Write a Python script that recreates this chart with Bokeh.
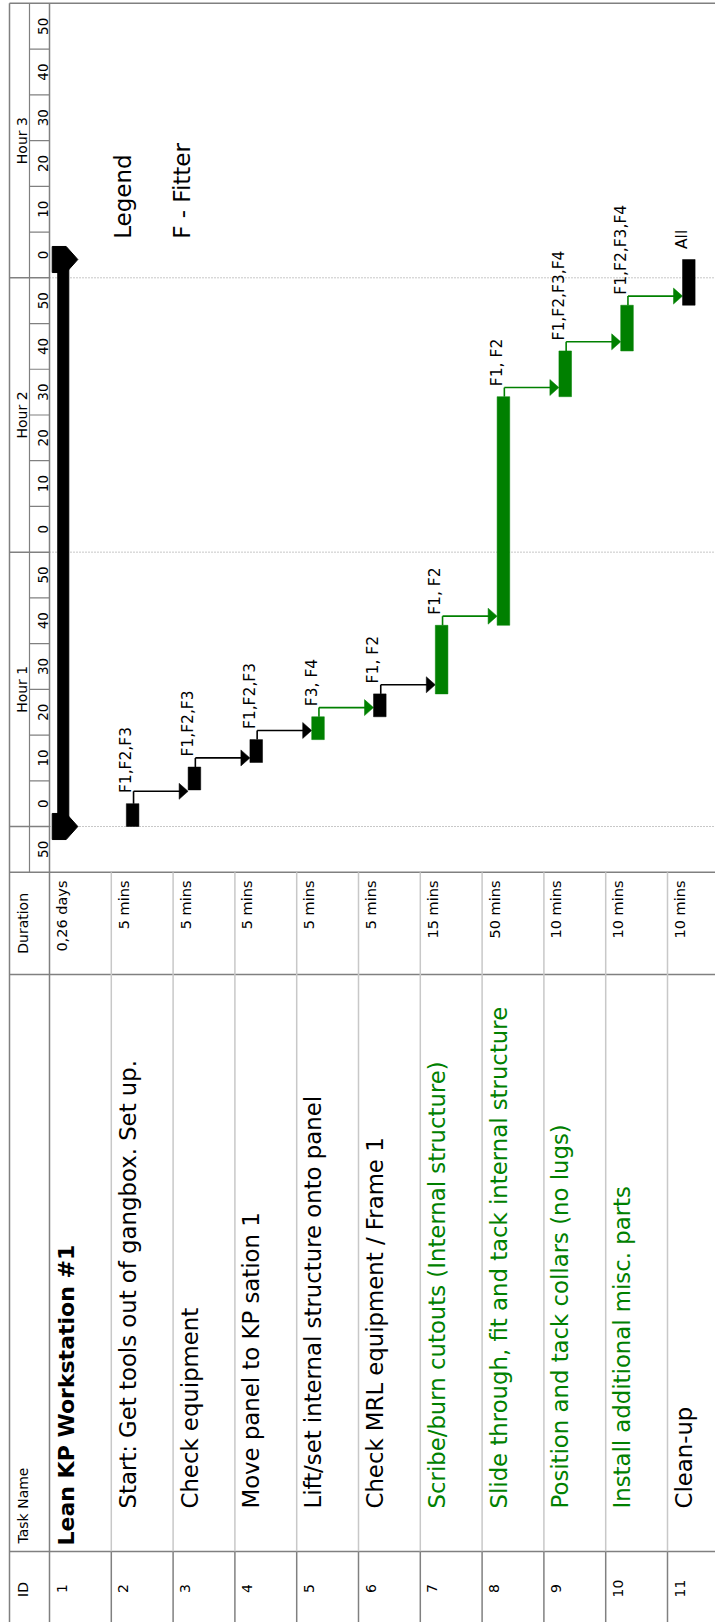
import math
from bokeh.plotting import figure
from bokeh.models import Range1d, ColumnDataSource
from bokeh.core.properties import value
from bokeh.embed import file_html
from bokeh.resources import INLINE

# ---------------- data ----------------
task_ids = ["1", "2", "3", "4", "5", "6", "7", "8", "9", "10", "11"]
task_names = [
    "Lean KP Workstation #1",
    "Start: Get tools out of gangbox. Set up.",
    "Check equipment",
    "Move panel to KP sation 1",
    "Lift/set internal structure onto panel",
    "Check MRL equipment / Frame 1",
    "Scribe/burn cutouts (Internal structure)",
    "Slide through, fit and tack internal structure",
    "Position and tack collars (no lugs)",
    "Install additional misc. parts",
    "Clean-up",
]
durations = ["0,26 days", "5 mins", "5 mins", "5 mins", "5 mins", "5 mins",
             "15 mins", "50 mins", "10 mins", "10 mins", "10 mins"]
start_min = [0, 0, 8, 14, 19, 24, 29, 44, 94, 104, 114]   # minutes from start of Hour 1
dur_min = [124, 5, 5, 5, 5, 5, 15, 50, 10, 10, 10]
resources = ["", "F1,F2,F3", "F1,F2,F3", "F1,F2,F3", "F3, F4", "F1, F2",
             "F1, F2", "F1, F2", "F1,F2,F3,F4", "F1,F2,F3,F4", "All"]
is_green_bar = [False, False, False, False, True, False, True, True, True, True, False]
is_green_name = [False, False, False, False, False, False, True, True, True, True, False]
hour_labels = ["Hour 1", "Hour 2", "Hour 3"]
hour_starts = [0, 60, 120]
minute_labels = ["50", "0", "10", "20", "30", "40", "50", "0", "10", "20", "30",
                 "40", "50", "0", "10", "20", "30", "40", "50"]
minute_cells = [-10, 0, 10, 20, 30, 40, 50, 60, 70, 80, 90, 100, 110, 120, 130,
                140, 150, 160, 170]
legend_lines = ["Legend", "F - Fitter"]
col_headers = ["Duration", "Task Name", "ID"]

# ---------------- styling ----------------
BLACK = "#000000"
GREEN = "#008000"
DARK = "#808080"
LIGHT = "#c8c8c8"
FONT = "DejaVu Sans"
PXROW = 61.8          # pixels per row column
PXMIN = 4.5725        # pixels per minute
Y0PX = 826.0          # pixel row of minute 0


def u(px):
    """horizontal pixel -> row units"""
    return (px - 49) / PXROW


def tm(py):
    """vertical pixel -> minutes"""
    return (Y0PX - py) / PXMIN


def fix(size):
    """small leftward correction of rotated text baseline (row units)"""
    return -0.2 * size / PXROW


W, H = 715, 1622
X0, X1 = u(0), u(W)
T_TOP, T_BOT = tm(0), tm(H)
T_BORDER = tm(2.7)
T_CHART_BOT = -10
T_DUR_BOT = tm(974)
T_NAME_BOT = tm(1551)
XL, XM = u(9), u(29)

p = figure(width=W, height=H, x_range=Range1d(X0, X1), y_range=Range1d(T_BOT, T_TOP),
           x_axis_location=None, y_axis_location=None, toolbar_location=None,
           output_backend="svg", min_border=0, outline_line_color=None,
           background_fill_color="white", border_fill_color="white")
p.grid.visible = False

n = len(task_ids)

# ---- grid / table lines ----
p.segment(x0=[0] * len(hour_starts), x1=[X1] * len(hour_starts), y0=hour_starts, y1=hour_starts,
          line_color="#909090", line_width=1, line_dash="1 2")
p.segment(x0=[XL] * len(hour_starts), x1=[0] * len(hour_starts), y0=hour_starts, y1=hour_starts,
          line_color=DARK, line_width=1.5)
ticks = [c for c in minute_cells if c not in hour_starts and c > T_CHART_BOT]
p.segment(x0=[XM] * len(ticks), x1=[0] * len(ticks), y0=ticks, y1=ticks,
          line_color=DARK, line_width=1.2)
p.segment(x0=[XL, 0], x1=[XL, 0], y0=[T_BORDER, T_BORDER], y1=[T_BOT, T_BOT],
          line_color=DARK, line_width=1.5)
p.segment(x0=[XM], x1=[XM], y0=[T_BORDER], y1=[T_CHART_BOT], line_color=DARK, line_width=1.2)
hs = [T_BORDER, T_CHART_BOT, T_DUR_BOT, T_NAME_BOT]
p.segment(x0=[XL] * 4, x1=[X1] * 4, y0=hs, y1=hs, line_color=DARK, line_width=1.5)
rows = list(range(1, n))
p.segment(x0=rows, x1=rows, y0=[T_CHART_BOT] * len(rows), y1=[T_NAME_BOT] * len(rows),
          line_color=LIGHT, line_width=1.5)
p.segment(x0=rows, x1=rows, y0=[T_NAME_BOT] * len(rows), y1=[T_BOT] * len(rows),
          line_color=DARK, line_width=1.5)

# ---- header texts ----
p.text(x=[u(24.5) + fix(14)] * 3, y=[h + 30 for h in hour_starts], text=hour_labels,
       angle=math.pi / 2, text_align="center", text_baseline="alphabetic",
       text_font=value(FONT), text_font_size="14px", text_color=BLACK)
p.text(x=[u(45) + fix(13.5)] * len(minute_cells), y=[c + 5 for c in minute_cells],
       text=minute_labels, angle=math.pi / 2, text_align="center", text_baseline="alphabetic",
       text_font=value(FONT), text_font_size="13.5px", text_color=BLACK)
p.text(x=[u(25) + fix(14)], y=[(T_CHART_BOT + T_DUR_BOT) / 2], text=[col_headers[0]],
       angle=math.pi / 2, text_align="center", text_baseline="alphabetic",
       text_font=value(FONT), text_font_size="14px", text_color=BLACK)
p.text(x=[u(25) + fix(14)], y=[tm(1543)], text=[col_headers[1]], angle=math.pi / 2,
       text_align="left", text_baseline="alphabetic", text_font=value(FONT),
       text_font_size="14px", text_color=BLACK)
p.text(x=[u(25) + fix(14)], y=[tm(1589)], text=[col_headers[2]], angle=math.pi / 2,
       text_align="center", text_baseline="alphabetic", text_font=value(FONT),
       text_font_size="14px", text_color=BLACK)

# ---- table texts ----
idx = list(range(n))
p.text(x=[i + 0.25 + fix(14.5) for i in idx], y=[tm(880)] * n, text=durations,
       angle=math.pi / 2, text_align="right", text_baseline="alphabetic",
       text_font=value(FONT), text_font_size="14.5px", text_color=BLACK)
p.text(x=[i + 0.24 + fix(14) for i in idx], y=[tm(1588)] * n, text=task_ids,
       angle=math.pi / 2, text_align="center", text_baseline="alphabetic",
       text_font=value(FONT), text_font_size="14px", text_color=BLACK)
p.text(x=[0 + 0.34 + fix(22)], y=[tm(1545)], text=[task_names[0]], angle=math.pi / 2,
       text_align="left", text_baseline="alphabetic", text_font=value(FONT),
       text_font_size="22px", text_font_style="bold", text_color=BLACK)
sub = idx[1:]
p.text(x=[i + 0.34 + fix(23) for i in sub], y=[tm(1508)] * len(sub),
       text=[task_names[i] for i in sub], angle=math.pi / 2, text_align="left",
       text_baseline="alphabetic", text_font=value(FONT), text_font_size="22.8px",
       text_color=[GREEN if is_green_name[i] else BLACK for i in sub])

# ---- legend texts ----
p.text(x=[u(127) + fix(23), u(186) + fix(23)], y=[tm(238.3)] * 2, text=legend_lines,
       angle=math.pi / 2, text_align="left", text_baseline="alphabetic",
       text_font=value(FONT), text_font_size="23px", text_color=BLACK)

# ---- links ----
finish = [s + d for s, d in zip(start_min, dur_min)]
vx0, vy0, vy1, hx0, hx1, hy, lcol, axs, ays = [], [], [], [], [], [], [], [], []
for i in range(1, n - 1):
    j = i + 1
    ly = max(finish[i] + 2.0, start_min[j] - 0.3)
    col = GREEN if is_green_bar[i] else BLACK
    xv = i + 0.36
    tip = j + 0.243
    vx0.append(xv); vy0.append(finish[i]); vy1.append(ly)
    hx0.append(xv); hx1.append(tip - 0.12); hy.append(ly); lcol.append(col)
    axs.append([tip - 0.146, tip, tip - 0.146]); ays.append([ly - 1.75, ly, ly + 1.75])
p.segment(x0=vx0, x1=vx0, y0=vy0, y1=vy1, line_color=lcol, line_width=1.6)
p.segment(x0=hx0, x1=hx1, y0=hy, y1=hy, line_color=lcol, line_width=1.6)
p.patches(xs=axs, ys=ays, fill_color=lcol, line_color=lcol, line_width=0.5)

# ---- bars ----
bars = ColumnDataSource(dict(
    left=[i + 0.243 for i in sub], right=[i + 0.447 for i in sub],
    bottom=[start_min[i] for i in sub], top=[finish[i] for i in sub],
    color=[GREEN if is_green_bar[i] else BLACK for i in sub]))
p.quad(left="left", right="right", bottom="bottom", top="top", source=bars,
       fill_color="color", line_color="color", line_width=0.5)

# summary bar
p.quad(left=[0.134], right=[0.312], bottom=[start_min[0]], top=[finish[0]],
       fill_color=BLACK, line_color=BLACK)
caps_x, caps_y = [], []
for t in (start_min[0], finish[0]):
    caps_x.append([0.044, 0.27, 0.458, 0.27, 0.044])
    caps_y.append([t - 2.85, t - 2.85, t, t + 2.85, t + 2.85])
p.patches(xs=caps_x, ys=caps_y, fill_color=BLACK, line_color=BLACK)

# ---- resource labels ----
lab = [i for i in sub if resources[i]]
p.text(x=[i + 0.29 + fix(15.5) for i in lab], y=[finish[i] + 2.3 for i in lab],
       text=[resources[i] for i in lab], angle=math.pi / 2, text_align="left",
       text_baseline="alphabetic", text_font=value(FONT), text_font_size="15.5px",
       text_color=BLACK)

open("out.html", "w").write(file_html(p, INLINE))
